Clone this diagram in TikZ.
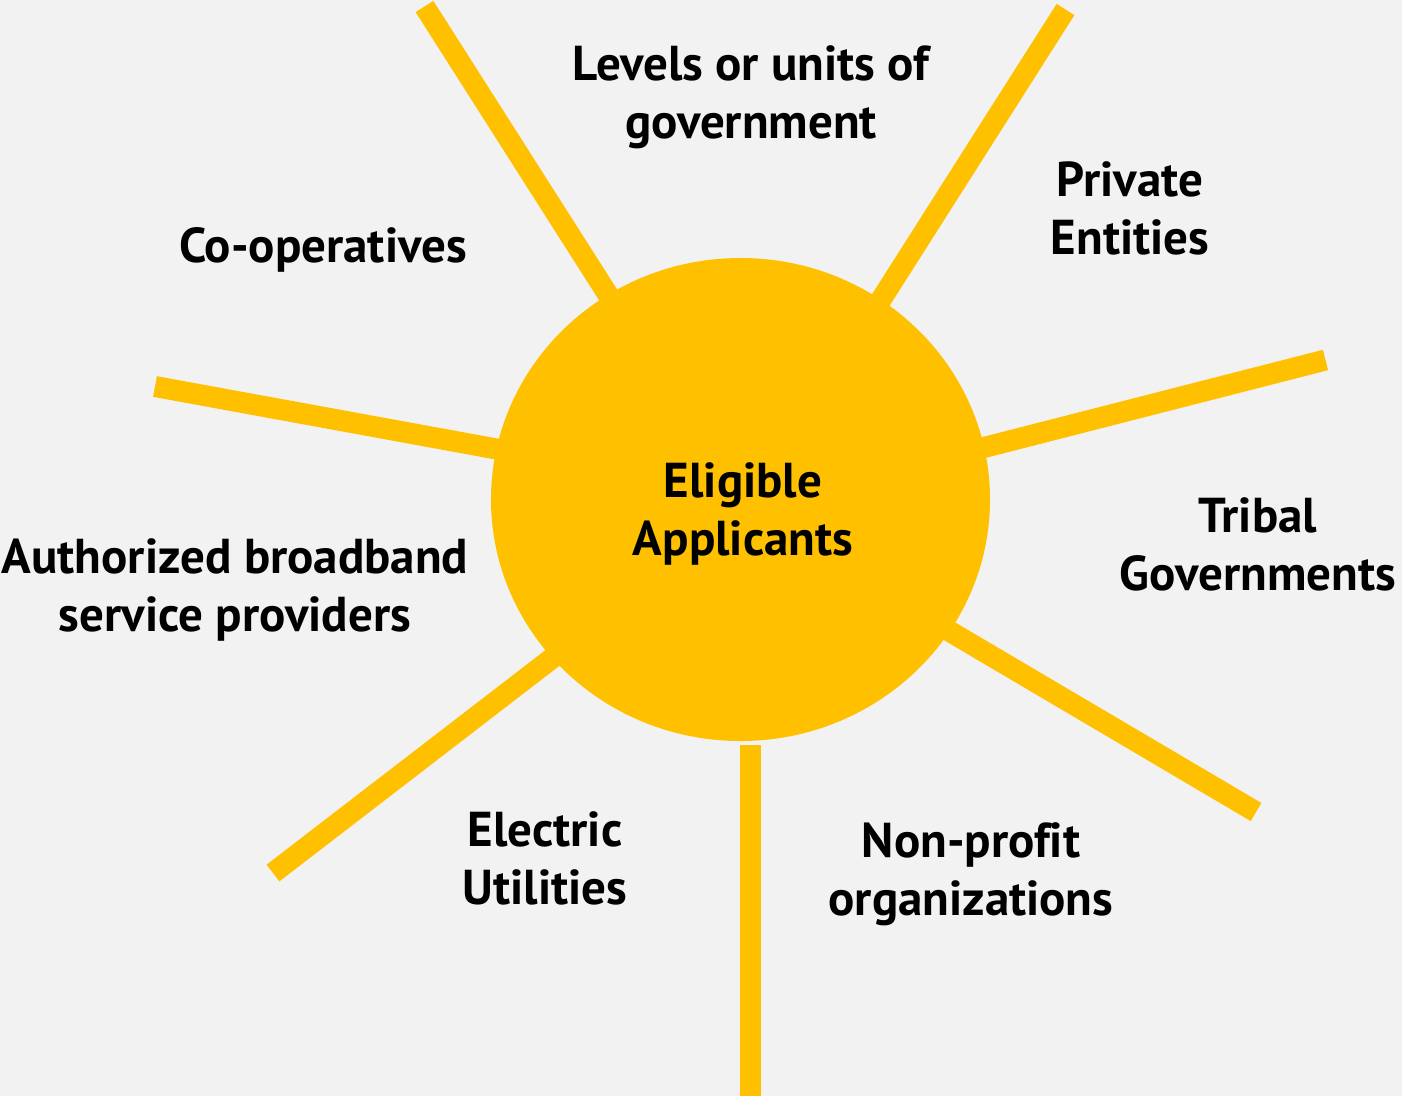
\documentclass[tikz,border=0pt]{standalone}
\usepackage{fontspec}
\setmainfont{PT Sans}[Ligatures=NoCommon]
\usetikzlibrary{shapes.geometric}
\definecolor{bg}{HTML}{F2F2F2}
\definecolor{sun}{HTML}{FFC000}
\tikzset{
  ray/.style={draw=sun, line width=21pt, line cap=butt},
  lbl/.style={align=center, inner sep=0pt, anchor=base, font=\fontsize{49}{58}\selectfont\bfseries, text=black},
  hubstyle/.style={ellipse, fill=sun, draw=none, minimum width=499pt, minimum height=483pt, inner sep=0pt}
}
\begin{document}
\begin{tikzpicture}[x=1pt,y=-1pt]
\fill[bg] (0,0) rectangle (1402,1096);
\useasboundingbox (0,0) rectangle (1402,1096);
% ray end points
\coordinate (r1o) at (424.5,6.5);   \coordinate (r1i) at (612,301);
\coordinate (r2o) at (1065.5,9.5);  \coordinate (r2i) at (877,306);
\coordinate (r3o) at (1325.5,360);  \coordinate (r3i) at (978,449);
\coordinate (r4o) at (1256,812);    \coordinate (r4i) at (944,628);
\coordinate (r5o) at (750.5,1096);  \coordinate (r5i) at (750.5,745);
\coordinate (r6o) at (273,873);     \coordinate (r6i) at (555,656);
\coordinate (r7o) at (155,386.5);   \coordinate (r7i) at (502,450);
\draw[ray] (r1i) -- (r1o);
\draw[ray] (r2i) -- (r2o);
\draw[ray] (r3i) -- (r3o);
\draw[ray] (r4i) -- (r4o);
\draw[ray] (r5i) -- (r5o);
\draw[ray] (r6i) -- (r6o);
\draw[ray] (r7i) -- (r7o);
\node[hubstyle] (hub) at (740.5,499.5) {};
\node[lbl] (center) at (743,555) {Eligible\\Applicants};
\node[lbl] (gov) at (751,138) {Levels or units of\\government};
\node[lbl] (priv) at (1130,254) {Private\\Entities};
\node[lbl] (coop) at (323,262) {Co-operatives};
\node[lbl] (tribal) at (1258,590) {Tribal\\Governments};
\node[lbl] (isp) at (235,631) {Authorized broadband\\service providers};
\node[lbl] (elec) at (545,904) {Electric\\Utilities};
\node[lbl] (nonp) at (971,915) {Non-profit\\organizations};
\end{tikzpicture}
\end{document}
